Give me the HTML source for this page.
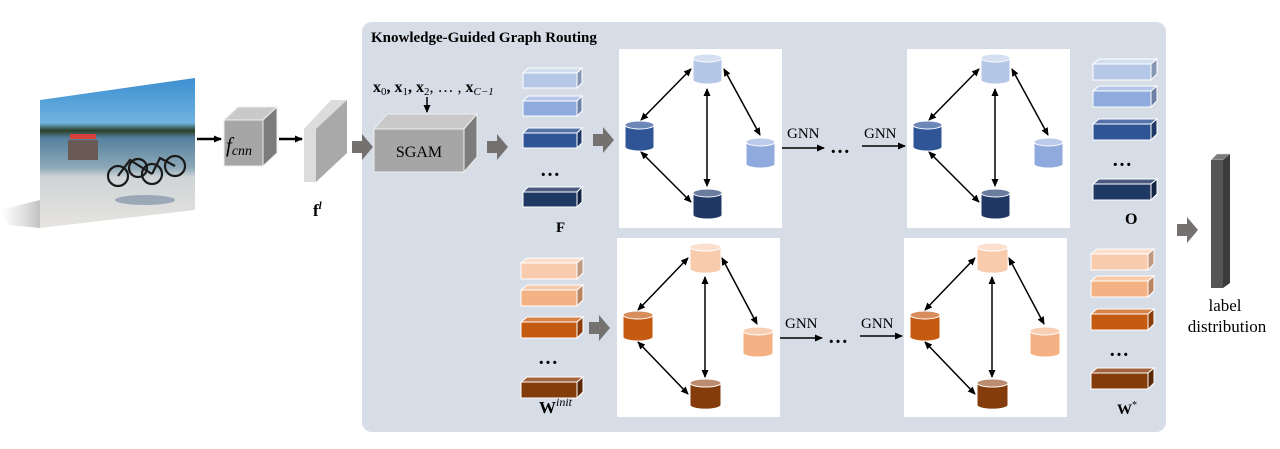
<!DOCTYPE html>
<html><head><meta charset="utf-8"><style>
html,body{margin:0;padding:0;background:#fff;width:1280px;height:449px;overflow:hidden}
text{font-family:"Liberation Serif",serif}
</style></head><body>
<svg width="1280" height="449" viewBox="0 0 1280 449" xmlns="http://www.w3.org/2000/svg">
<defs>
<marker id="ah" markerWidth="8" markerHeight="8" refX="7" refY="4" orient="auto-start-reverse" markerUnits="userSpaceOnUse"><path d="M0,0.5 L8,4 L0,7.5 z" fill="#000"/></marker>
<linearGradient id="img" x1="0" y1="0" x2="0" y2="1">
<stop offset="0" stop-color="#3d8fd0"/><stop offset="0.3" stop-color="#6fb3e0"/><stop offset="0.35" stop-color="#2a3f26"/><stop offset="0.4" stop-color="#55809e"/><stop offset="0.6" stop-color="#8ea9b8"/><stop offset="0.66" stop-color="#cfd4d6"/><stop offset="1" stop-color="#e6e4e0"/>
</linearGradient>
<linearGradient id="sh" x1="1" y1="0" x2="0" y2="0"><stop offset="0" stop-color="#999" stop-opacity="0.6"/><stop offset="1" stop-color="#bbb" stop-opacity="0"/></linearGradient>
</defs>

<rect x="362" y="22" width="804" height="410" rx="10" fill="#d6dde7"/>
<text x="371" y="42" font-size="15" font-weight="bold">Knowledge-Guided Graph Routing</text>

<!-- image -->
<polygon points="0,210 40,200 40,228 8,225" fill="url(#sh)"/>
<polygon points="40,100 195,78 195,210 40,228" fill="url(#img)"/>
<g stroke="#1a1a1a" stroke-width="2.2" fill="none">
<circle cx="118" cy="176" r="10"/><circle cx="152" cy="174" r="10"/><circle cx="175" cy="166" r="10"/><circle cx="138" cy="168" r="9"/>
<path d="M118,176 L130,160 L152,174 M152,174 L160,158 L175,166"/>
</g>
<rect x="68" y="140" width="30" height="20" fill="#6a5a56"/><rect x="70" y="134" width="26" height="5" fill="#d8403a"/>
<ellipse cx="145" cy="200" rx="30" ry="5" fill="#6f86a0" opacity="0.6"/>

<line x1="197" y1="139" x2="221" y2="139" stroke="#000" stroke-width="2.5" marker-end="url(#ah)"/>
<line x1="279" y1="139" x2="302" y2="139" stroke="#000" stroke-width="2.5" marker-end="url(#ah)"/>

<!-- fcnn cube -->
<polygon points="224,120 238,107 277,107 263,120" fill="#c9c9c9" stroke="#eee"/>
<polygon points="263,120 277,107 277,153 263,166" fill="#7c7c7c" stroke="#eee"/>
<rect x="224" y="120" width="39" height="46" fill="#a6a6a6" stroke="#eee"/>
<text x="226" y="152" font-size="21" font-style="italic">f<tspan font-size="14" dy="3">cnn</tspan></text>

<!-- fl slab -->
<polygon points="304,129 331,100 347,100 320,129" fill="#dcdcdc"/>
<polygon points="316,129 347,100 347,153 316,182" fill="#a9a9a9"/>
<rect x="304" y="129" width="12" height="53" fill="#dcdcdc"/>
<text x="313" y="216" font-size="17" font-weight="bold">f<tspan font-size="11" font-style="italic" dy="-7">l</tspan></text>

<g fill="#767171">
<polygon points="352,141 362,141 362,134 373,147 362,160 362,153 352,153"/>
<polygon points="487,141 497,141 497,134 508,147 497,160 497,153 487,153"/>
<polygon points="593,134 603,134 603,127 614,140 603,153 603,146 593,146"/>
<polygon points="589,322 599,322 599,315 610,328 599,341 599,334 589,334"/>
<polygon points="1177,224 1187,224 1187,217 1198,230 1187,243 1187,236 1177,236"/>
</g>

<!-- SGAM -->
<text x="373" y="92" font-size="16" font-weight="bold">x<tspan font-size="11" font-weight="normal" dy="3">0</tspan><tspan dy="-3">, x</tspan><tspan font-size="11" font-weight="normal" dy="3">1</tspan><tspan dy="-3">, x</tspan><tspan font-size="11" font-weight="normal" dy="3">2</tspan><tspan dy="-3" font-weight="normal">, … , </tspan><tspan>x</tspan><tspan font-size="11" font-weight="normal" font-style="italic" dy="3">C−1</tspan></text>
<line x1="427" y1="97" x2="427" y2="112" stroke="#000" stroke-width="1.5" marker-end="url(#ah)"/>
<polygon points="374,129 387,114 477,114 464,129" fill="#c9c9c9" stroke="#eee"/>
<polygon points="464,129 477,114 477,157 464,172" fill="#7c7c7c" stroke="#eee"/>
<rect x="374" y="129" width="90" height="43" fill="#a6a6a6" stroke="#eee"/>
<text x="419" y="157" font-size="16" text-anchor="middle">SGAM</text>

<g stroke="#fff" stroke-width="1">
<polygon points="523,73 528,68 582,68 577,73" fill="#d2ddf0"/><polygon points="577,73 582,68 582,83 577,88" fill="#8797b3"/><rect x="523" y="73" width="54" height="15" fill="#b4c7e7"/>
<polygon points="523,101 528,96 582,96 577,101" fill="#b6c6e8"/><polygon points="577,101 582,96 582,111 577,116" fill="#6d81a6"/><rect x="523" y="101" width="54" height="15" fill="#8faadc"/>
<polygon points="523,133 528,128 582,128 577,133" fill="#5573aa"/><polygon points="577,133 582,128 582,143 577,148" fill="#1e3766"/><rect x="523" y="133" width="54" height="15" fill="#2f5597"/>
<polygon points="523,192 528,187 582,187 577,192" fill="#4a5b80"/><polygon points="577,192 582,187 582,202 577,207" fill="#142443"/><rect x="523" y="192" width="54" height="15" fill="#203864"/>
<polygon points="1093,64 1099,59 1157,59 1151,64" fill="#d2ddf0"/><polygon points="1151,64 1157,59 1157,74 1151,80" fill="#8797b3"/><rect x="1093" y="64" width="58" height="16" fill="#b4c7e7"/>
<polygon points="1093,91 1099,86 1157,86 1151,91" fill="#b6c6e8"/><polygon points="1151,91 1157,86 1157,101 1151,107" fill="#6d81a6"/><rect x="1093" y="91" width="58" height="16" fill="#8faadc"/>
<polygon points="1093,124 1099,119 1157,119 1151,124" fill="#5573aa"/><polygon points="1151,124 1157,119 1157,134 1151,140" fill="#1e3766"/><rect x="1093" y="124" width="58" height="16" fill="#2f5597"/>
<polygon points="1093,184 1099,179 1157,179 1151,184" fill="#4a5b80"/><polygon points="1151,184 1157,179 1157,194 1151,200" fill="#142443"/><rect x="1093" y="184" width="58" height="16" fill="#203864"/>
<polygon points="521,263 527,258 583,258 577,263" fill="#fbdfcc"/><polygon points="577,263 583,258 583,273 577,279" fill="#c09a80"/><rect x="521" y="263" width="56" height="16" fill="#f8cbad"/>
<polygon points="521,290 527,285 583,285 577,290" fill="#f8caa9"/><polygon points="577,290 583,285 583,300 577,306" fill="#b98561"/><rect x="521" y="290" width="56" height="16" fill="#f4b183"/>
<polygon points="521,322 527,317 583,317 577,322" fill="#d98349"/><polygon points="577,322 583,317 583,332 577,338" fill="#8a3d0a"/><rect x="521" y="322" width="56" height="16" fill="#c55a11"/>
<polygon points="521,382 527,377 583,377 577,382" fill="#a3633c"/><polygon points="577,382 583,377 583,392 577,398" fill="#5a2807"/><rect x="521" y="382" width="56" height="16" fill="#843c0c"/>
<polygon points="1091,254 1097,249 1154,249 1148,254" fill="#fbdfcc"/><polygon points="1148,254 1154,249 1154,264 1148,270" fill="#c09a80"/><rect x="1091" y="254" width="57" height="16" fill="#f8cbad"/>
<polygon points="1091,281 1097,276 1154,276 1148,281" fill="#f8caa9"/><polygon points="1148,281 1154,276 1154,291 1148,297" fill="#b98561"/><rect x="1091" y="281" width="57" height="16" fill="#f4b183"/>
<polygon points="1091,314 1097,309 1154,309 1148,314" fill="#d98349"/><polygon points="1148,314 1154,309 1154,324 1148,330" fill="#8a3d0a"/><rect x="1091" y="314" width="57" height="16" fill="#c55a11"/>
<polygon points="1091,373 1097,368 1154,368 1148,373" fill="#a3633c"/><polygon points="1148,373 1154,368 1154,383 1148,389" fill="#5a2807"/><rect x="1091" y="373" width="57" height="16" fill="#843c0c"/>
</g>
<g font-size="20" font-weight="bold">
<text x="540" y="176">…</text><text x="1112" y="166">…</text><text x="538" y="364">…</text><text x="1109" y="356">…</text>
</g>
<text x="556" y="232" font-size="15" font-weight="bold">F</text>
<text x="1125" y="224" font-size="16" font-weight="bold">O</text>
<text x="539" y="413" font-size="17" font-weight="bold">W<tspan font-size="12" font-weight="normal" font-style="italic" dy="-7">init</tspan></text>
<text x="1117" y="414" font-size="15" font-weight="bold">W<tspan font-size="10" font-weight="normal" dy="-6">*</tspan></text>

<rect x="619" y="49" width="163" height="179" fill="#fff"/>
<rect x="907" y="49" width="163" height="179" fill="#fff"/>
<rect x="617" y="238" width="163" height="179" fill="#fff"/>
<rect x="904" y="238" width="163" height="179" fill="#fff"/>

<g stroke="#000" stroke-width="1.5" marker-start="url(#ah)" marker-end="url(#ah)">
<line x1="691" y1="69" x2="641" y2="120"/><line x1="707" y1="89" x2="707" y2="186"/><line x1="724" y1="69" x2="760" y2="135"/><line x1="641" y1="152" x2="691" y2="202"/>
<line x1="979" y1="69" x2="929" y2="120"/><line x1="995" y1="89" x2="995" y2="186"/><line x1="1012" y1="69" x2="1048" y2="135"/><line x1="929" y1="152" x2="979" y2="202"/>
<line x1="688" y1="258" x2="638" y2="310"/><line x1="705" y1="277" x2="705" y2="377"/><line x1="722" y1="258" x2="757" y2="324"/><line x1="638" y1="342" x2="688" y2="394"/>
<line x1="975" y1="258" x2="925" y2="310"/><line x1="992" y1="277" x2="992" y2="377"/><line x1="1009" y1="258" x2="1044" y2="324"/><line x1="925" y1="342" x2="975" y2="394"/>
</g>

<g stroke="#fff" stroke-width="1">
<path d="M693,58 v22 a14.5,4 0 0 0 29,0 v-22 z" fill="#b4c7e7"/><ellipse cx="707.5" cy="58" rx="14.5" ry="4" fill="#d4e0f2"/>
<path d="M625,125 v22 a14.5,4 0 0 0 29,0 v-22 z" fill="#2f5597"/><ellipse cx="639.5" cy="125" rx="14.5" ry="4" fill="#6c87b8"/>
<path d="M746,142 v22 a14.5,4 0 0 0 29,0 v-22 z" fill="#8faadc"/><ellipse cx="760.5" cy="142" rx="14.5" ry="4" fill="#bccbec"/>
<path d="M693,193 v22 a14.5,4 0 0 0 29,0 v-22 z" fill="#203864"/><ellipse cx="707.5" cy="193" rx="14.5" ry="4" fill="#6b7d9e"/>
<path d="M981,58 v22 a14.5,4 0 0 0 29,0 v-22 z" fill="#b4c7e7"/><ellipse cx="995.5" cy="58" rx="14.5" ry="4" fill="#d4e0f2"/>
<path d="M913,125 v22 a14.5,4 0 0 0 29,0 v-22 z" fill="#2f5597"/><ellipse cx="927.5" cy="125" rx="14.5" ry="4" fill="#6c87b8"/>
<path d="M1034,142 v22 a14.5,4 0 0 0 29,0 v-22 z" fill="#8faadc"/><ellipse cx="1048.5" cy="142" rx="14.5" ry="4" fill="#bccbec"/>
<path d="M981,193 v22 a14.5,4 0 0 0 29,0 v-22 z" fill="#203864"/><ellipse cx="995.5" cy="193" rx="14.5" ry="4" fill="#6b7d9e"/>
<path d="M690,247 v22 a15,4 0 0 0 31,0 v-22 z" fill="#f8cbad"/><ellipse cx="705.5" cy="247" rx="15.5" ry="4" fill="#fbe0cf"/>
<path d="M623,315 v22 a15,4 0 0 0 30,0 v-22 z" fill="#c55a11"/><ellipse cx="638" cy="315" rx="15" ry="4" fill="#d88d5c"/>
<path d="M743,331 v22 a15,4 0 0 0 30,0 v-22 z" fill="#f4b183"/><ellipse cx="758" cy="331" rx="15" ry="4" fill="#f8cfb2"/>
<path d="M690,383 v22 a15,4 0 0 0 31,0 v-22 z" fill="#843c0c"/><ellipse cx="705.5" cy="383" rx="15.5" ry="4" fill="#bb8c70"/>
<path d="M977,247 v22 a15,4 0 0 0 31,0 v-22 z" fill="#f8cbad"/><ellipse cx="992.5" cy="247" rx="15.5" ry="4" fill="#fbe0cf"/>
<path d="M910,315 v22 a15,4 0 0 0 30,0 v-22 z" fill="#c55a11"/><ellipse cx="925" cy="315" rx="15" ry="4" fill="#d88d5c"/>
<path d="M1030,331 v22 a15,4 0 0 0 30,0 v-22 z" fill="#f4b183"/><ellipse cx="1045" cy="331" rx="15" ry="4" fill="#f8cfb2"/>
<path d="M977,383 v22 a15,4 0 0 0 31,0 v-22 z" fill="#843c0c"/><ellipse cx="992.5" cy="383" rx="15.5" ry="4" fill="#bb8c70"/>
</g>

<g stroke="#000" stroke-width="1.5">
<line x1="782" y1="148" x2="824" y2="148" marker-end="url(#ah)"/>
<line x1="862" y1="146" x2="905" y2="146" marker-end="url(#ah)"/>
<line x1="780" y1="338" x2="822" y2="338" marker-end="url(#ah)"/>
<line x1="860" y1="336" x2="902" y2="336" marker-end="url(#ah)"/>
</g>
<g font-size="15">
<text x="787" y="138">GNN</text><text x="864" y="138">GNN</text>
<text x="785" y="328">GNN</text><text x="861" y="328">GNN</text>
</g>
<g font-size="20" font-weight="bold">
<text x="830" y="153">…</text><text x="828" y="343">…</text>
</g>

<polygon points="1211,160 1217,154 1230,154 1223,160" fill="#7c7c7c" stroke="#ddd" stroke-width="0.5"/>
<polygon points="1223,160 1230,154 1230,283 1223,288" fill="#3b3b3b"/>
<rect x="1211" y="160" width="12" height="128" fill="#555"/>
<text x="1225" y="311" font-size="17" text-anchor="middle">label</text>
<text x="1227" y="332" font-size="17" text-anchor="middle">distribution</text>
</svg>
</body></html>
